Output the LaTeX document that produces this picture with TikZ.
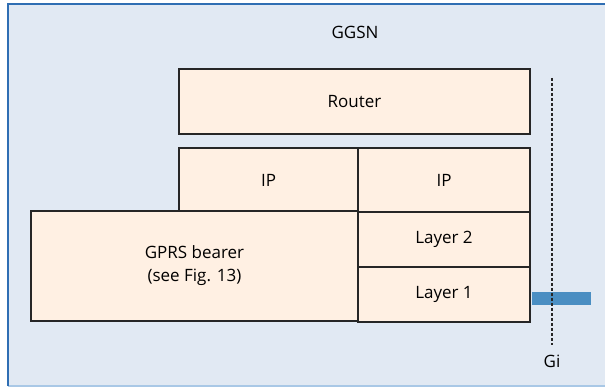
\documentclass[tikz,border=0pt]{standalone}
\usepackage{fontspec}
\setmainfont{Open Sans}
\usetikzlibrary{positioning}
\definecolor{ggsnbg}{HTML}{E1E9F3}
\definecolor{ggsnedge}{HTML}{2F6EB3}
\definecolor{ggsnlow}{HTML}{A9C8E6}
\definecolor{layerfill}{HTML}{FFF0E3}
\definecolor{gibar}{HTML}{4A8EC2}
\tikzset{layerbox/.style={draw=black!85,line width=1.4pt,fill=layerfill,
  inner sep=0pt,outer sep=0pt,align=center,font=\fontsize{17}{23}\selectfont}}

\begin{document}
\begin{tikzpicture}[x=1pt,y=-1pt]
\useasboundingbox (0,0) rectangle (605,387);
\fill[ggsnbg] (8,4) rectangle (610,386);
\draw[ggsnlow,line width=1.5pt] (8,386) -- (610,386);
\draw[ggsnedge,line width=2pt] (8,386) -- (8,4) -- (610,4);
\node[font=\fontsize{17}{23}\selectfont] (ggsn) at (355,32) {GGSN};
\node[layerbox,minimum width=351pt,minimum height=65pt] (router) at (354.5,101.5) {Router};
\node[layerbox,minimum width=179pt,minimum height=64pt] (ipa) at (268.5,180) {IP};
\node[layerbox,minimum width=172pt,minimum height=64pt] (ipb) at (444,180) {IP};
\node[layerbox,minimum width=327pt,minimum height=110pt] (bearer) at (194.5,266) {GPRS bearer\\(see Fig. 13)};
\node[layerbox,minimum width=172pt,minimum height=55pt] (ltwo) at (444,239.5) {Layer 2};
\node[layerbox,minimum width=172pt,minimum height=55pt] (lone) at (444,294.5) {Layer 1};
\draw[gibar,line width=13pt] (lone.east |- 0,298.5) ++(2,0) -- (591,298.5);
\coordinate (gitop) at (552,78);
\node[font=\fontsize{17}{23}\selectfont] (gi) at (552,361) {Gi};
\draw[black!85,line width=1.2pt,dash pattern=on 3pt off 2pt] (gitop) -- (gi.north |- 0,345);
\end{tikzpicture}
\end{document}
